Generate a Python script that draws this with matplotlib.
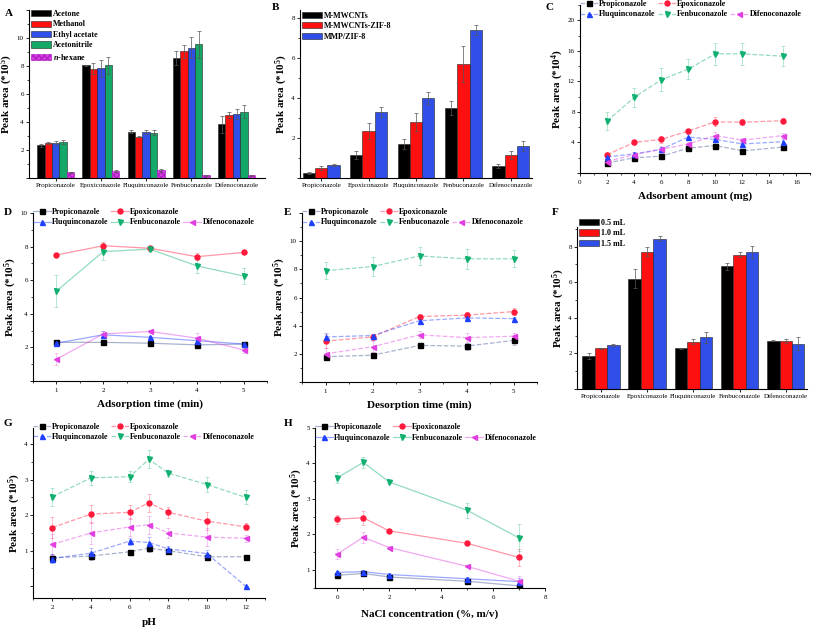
import numpy as np
import matplotlib.pyplot as plt
from matplotlib.lines import Line2D
from matplotlib.colors import to_rgba
from matplotlib.ticker import MultipleLocator, AutoMinorLocator, FuncFormatter

plt.rcParams['font.family'] = ['Liberation Serif', 'DejaVu Serif']
plt.rcParams['mathtext.fontset'] = 'custom'
plt.rcParams['mathtext.rm'] = 'Liberation Serif:bold'
plt.rcParams['mathtext.it'] = 'Liberation Serif:bold:italic'
plt.rcParams['mathtext.bf'] = 'Liberation Serif:bold'

pesticides = ['Propiconazole', 'Epoxiconazole', 'Fluquinconazole', 'Fenbuconazole', 'Difenoconazole']

# A - extraction solvent
solvents = ['Acetone', 'Methanol', 'Ethyl acetate', 'Acetonitrile', '$n$-hexane']
acetone = [2.35, 8.05, 3.30, 8.55, 3.85]
methanol = [2.50, 7.80, 2.95, 9.05, 4.50]
ethyl_acetate = [2.50, 7.85, 3.30, 9.30, 4.55]
acetonitrile = [2.60, 8.05, 3.25, 9.55, 4.75]
n_hexane = [0.40, 0.50, 0.55, 0.20, 0.20]
acetone_err = [0.10, 0.05, 0.10, 0.50, 0.60]
methanol_err = [0.10, 0.40, 0.05, 0.45, 0.20]
ethyl_acetate_err = [0.15, 0.60, 0.15, 0.75, 0.35]
acetonitrile_err = [0.15, 0.60, 0.15, 0.95, 0.45]
n_hexane_err = [0.05, 0.05, 0.10, 0.05, 0.03]

# B - adsorbent type
adsorbents = ['M-MWCNTs', 'M-MWCNTs-ZIF-8', 'MMP/ZIF-8']
mwcnt = [0.25, 1.15, 1.70, 3.50, 0.60]
mwcnt_zif = [0.50, 2.35, 2.80, 5.70, 1.15]
mmp_zif = [0.65, 3.30, 4.00, 7.40, 1.60]
mwcnt_err = [0.03, 0.20, 0.25, 0.35, 0.08]
mwcnt_zif_err = [0.08, 0.40, 0.45, 0.90, 0.20]
mmp_zif_err = [0.05, 0.25, 0.30, 0.25, 0.25]

# C - adsorbent amount (mg), peak area *10^4
amount = [2, 4, 6, 8, 10, 12, 15]
c_prop = [1.3, 2.0, 2.2, 3.25, 3.6, 2.9, 3.4]
c_epox = [2.4, 4.0, 4.4, 5.5, 6.7, 6.65, 6.85]
c_fluq = [2.1, 2.5, 3.1, 4.7, 4.4, 3.8, 4.1]
c_fenb = [6.8, 9.9, 12.2, 13.6, 15.6, 15.6, 15.3]
c_difen = [1.5, 2.4, 3.1, 3.8, 4.9, 4.3, 4.9]
c_prop_err = [0.3, 0.3, 0.3, 0.3, 0.5, 0.3, 0.3]
c_epox_err = [0.3, 0.3, 0.5, 0.3, 0.6, 0.4, 0.3]
c_fluq_err = [0.3, 0.3, 0.3, 0.4, 0.4, 0.3, 0.3]
c_fenb_err = [1.2, 1.2, 1.5, 1.3, 1.4, 1.4, 1.3]
c_difen_err = [0.3, 0.3, 0.5, 0.3, 0.5, 0.3, 0.3]

# D - adsorption time (min)
ads_time = [1, 2, 3, 4, 5]
d_prop = [2.3, 2.3, 2.25, 2.15, 2.2]
d_epox = [7.5, 8.05, 7.9, 7.4, 7.65]
d_fluq = [2.25, 2.75, 2.6, 2.4, 2.2]
d_fenb = [5.35, 7.7, 7.85, 6.85, 6.25]
d_difen = [1.3, 2.8, 2.95, 2.55, 1.85]
d_prop_err = [0.05, 0.05, 0.05, 0.05, 0.05]
d_epox_err = [0.1, 0.2, 0.1, 0.2, 0.1]
d_fluq_err = [0.1, 0.2, 0.1, 0.1, 0.1]
d_fenb_err = [0.95, 0.5, 0.1, 0.4, 0.5]
d_difen_err = [0.35, 0.2, 0.1, 0.3, 0.2]

# E - desorption time (min)
des_time = [1, 2, 3, 4, 5]
e_prop = [1.8, 1.9, 2.6, 2.55, 2.95]
e_epox = [2.9, 3.2, 4.65, 4.75, 5.0]
e_fluq = [3.2, 3.3, 4.35, 4.55, 4.5]
e_fenb = [7.9, 8.2, 8.95, 8.75, 8.75]
e_difen = [2.0, 2.5, 3.35, 3.15, 3.25]
e_prop_err = [0.1, 0.1, 0.1, 0.25, 0.3]
e_epox_err = [0.5, 0.2, 0.15, 0.2, 0.25]
e_fluq_err = [0.3, 0.1, 0.1, 0.1, 0.15]
e_fenb_err = [0.6, 0.7, 0.65, 0.7, 0.6]
e_difen_err = [0.4, 0.4, 0.25, 0.3, 0.25]

# F - desorption volume
volumes = ['0.5 mL', '1.0 mL', '1.5 mL']
vol_05 = [1.85, 6.2, 2.3, 6.9, 2.7]
vol_10 = [2.3, 7.7, 2.65, 7.55, 2.7]
vol_15 = [2.45, 8.45, 2.9, 7.7, 2.55]
vol_05_err = [0.15, 0.55, 0.03, 0.2, 0.03]
vol_10_err = [0.03, 0.25, 0.15, 0.15, 0.1]
vol_15_err = [0.05, 0.15, 0.3, 0.35, 0.35]

# G - pH
ph = [2, 4, 6, 7, 8, 10, 12]
g_prop = [0.80, 0.85, 0.97, 1.07, 1.00, 0.83, 0.83]
g_epox = [1.65, 2.03, 2.08, 2.35, 2.08, 1.83, 1.67]
g_fluq = [0.78, 0.93, 1.27, 1.23, 1.05, 0.92, 0.00]
g_fenb = [2.52, 3.05, 3.08, 3.57, 3.18, 2.86, 2.50]
g_difen = [1.18, 1.50, 1.67, 1.73, 1.50, 1.38, 1.35]
g_prop_err = [0.10, 0.10, 0.05, 0.12, 0.05, 0.10, 0.03]
g_epox_err = [0.30, 0.25, 0.20, 0.25, 0.15, 0.25, 0.10]
g_fluq_err = [0.12, 0.15, 0.10, 0.15, 0.08, 0.10, 0.02]
g_fenb_err = [0.25, 0.20, 0.15, 0.25, 0.10, 0.20, 0.20]
g_difen_err = [0.30, 0.30, 0.25, 0.25, 0.15, 0.25, 0.10]

# H - NaCl concentration (%, m/v)
nacl = [0, 1, 2, 5, 7]
h_prop = [0.85, 0.90, 0.80, 0.68, 0.55]
h_epox = [2.43, 2.47, 2.10, 1.75, 1.35]
h_fluq = [0.93, 0.95, 0.87, 0.75, 0.67]
h_fenb = [3.60, 4.03, 3.48, 2.68, 1.90]
h_difen = [1.45, 1.92, 1.63, 1.10, 0.68]
h_prop_err = [0.05, 0.05, 0.05, 0.05, 0.05]
h_epox_err = [0.13, 0.20, 0.03, 0.03, 0.25]
h_fluq_err = [0.05, 0.05, 0.05, 0.05, 0.10]
h_fenb_err = [0.15, 0.15, 0.03, 0.22, 0.38]
h_difen_err = [0.13, 0.15, 0.03, 0.03, 0.15]

bar_colors = ['#000000', '#ff1010', '#2f4fe8', '#14a868', '#e040e0']
line_colors = ['#000000', '#ff1a3c', '#2040ff', '#10b070', '#e040e0']
markers = ['s', 'o', '^', 'v', '<']

LEG = dict(size=5.8, weight='bold')
LAB = dict(fontsize=8, fontweight='bold')


def style_axis(ax, xlim, ylim, ystep, ylab_max):
    ax.spines['top'].set_visible(False)
    ax.spines['right'].set_visible(False)
    for s in ('left', 'bottom'):
        ax.spines[s].set_linewidth(0.8)
    ax.set_xlim(*xlim)
    ax.set_ylim(*ylim)
    ax.yaxis.set_major_locator(MultipleLocator(ystep))
    ax.yaxis.set_minor_locator(AutoMinorLocator(2))
    ax.yaxis.set_major_formatter(FuncFormatter(
        lambda v, p: '%g' % v if 1e-9 < v <= ylab_max + 1e-9 else ''))
    ax.tick_params(which='major', direction='out', length=2.5, width=0.6, labelsize=5.0, pad=1.2)
    ax.tick_params(which='minor', direction='out', length=1.4, width=0.5)


def bar_panel(ax, series, errs, names, width, hatches=None):
    x = np.arange(len(pesticides))
    n = len(series)
    for i, (vals, err) in enumerate(zip(series, errs)):
        off = (i - (n - 1) / 2) * width
        hatch = hatches[i] if hatches else None
        ax.bar(x + off, vals, width, color=bar_colors[i], edgecolor='#222222' if not hatch else '#b020c8',
               linewidth=0.4, hatch=hatch, label=names[i],
               yerr=err, error_kw=dict(ecolor='#555555', elinewidth=0.5, capsize=1.3, capthick=0.5))
    ax.set_xticks(x)
    ax.set_xticklabels(pesticides)
    ax.tick_params(axis='x', which='major', labelsize=4.8, length=2)
    ax.xaxis.set_minor_locator(plt.NullLocator())
    ax.set_ylabel('Peak area (*10$^{5}$)', labelpad=1, **LAB)


def bar_legend(ax, dy):
    ax.legend(loc='upper left', bbox_to_anchor=(0.01, dy), frameon=False, prop=LEG, handlelength=2.4,
              handleheight=0.8, handletextpad=0.3, labelspacing=0.3, borderaxespad=0, borderpad=0)


def line_panel(ax, x, series, errs, ls):
    handles = []
    for i, (vals, err) in enumerate(zip(series, errs)):
        c = line_colors[i]
        light = to_rgba(c, 0.45) if i != 0 else to_rgba('#7080b0', 0.6)
        ax.errorbar(x, vals, yerr=err, color=light, ls=ls, lw=0.9, marker=markers[i], ms=3.6,
                    mfc=c, mec=c, ecolor=to_rgba(c, 0.35) if i != 0 else to_rgba('#7080b0', 0.5),
                    elinewidth=0.6, capsize=1.5, capthick=0.6)
        handles.append(Line2D([], [], color=light, ls=ls, lw=0.9, marker=markers[i], ms=3.6, mfc=c, mec=c,
                              label=pesticides[i]))
    blank = Line2D([], [], ls='none', label=' ')
    order = [handles[0], handles[2], handles[1], handles[3], blank, handles[4]]
    ax.legend(handles=order, ncol=3, loc='upper left', bbox_to_anchor=(0.0, 1.03), frameon=False,
              prop=LEG, handlelength=2.2, handletextpad=0.2, columnspacing=0.25, labelspacing=0.3,
              borderaxespad=0, borderpad=0)


fig = plt.figure(figsize=(8.16, 6.27), dpi=100)
W, H = 816, 627


def add_ax(l, r, t, b):
    return fig.add_axes([l / W, 1 - b / H, (r - l) / W, (b - t) / H])


def panel_label(x, y, s):
    fig.text(x / W, 1 - y / H, s, fontsize=8, fontweight='bold', va='center', ha='left')


# A
axA = add_ax(29, 265, 10, 178)
bar_panel(axA, [acetone, methanol, ethyl_acetate, acetonitrile, n_hexane],
          [acetone_err, methanol_err, ethyl_acetate_err, acetonitrile_err, n_hexane_err],
          solvents, 0.164, hatches=[None, None, None, None, 'xxxxxx'])
style_axis(axA, (-0.59, 4.63), (0, 12), 2, 10)
bar_legend(axA, 1.0)
panel_label(5, 13, 'A')

# B
axB = add_ax(300, 532, 10, 178)
bar_panel(axB, [mwcnt, mwcnt_zif, mmp_zif], [mwcnt_err, mwcnt_zif_err, mmp_zif_err], adsorbents, 0.26)
style_axis(axB, (-0.45, 4.45), (0, 8.4), 2, 8)
bar_legend(axB, 0.99)
panel_label(272, 8, 'B')

# C
axC = add_ax(580, 810, 5, 173)
line_panel(axC, amount, [c_prop, c_epox, c_fluq, c_fenb, c_difen],
           [c_prop_err, c_epox_err, c_fluq_err, c_fenb_err, c_difen_err], '--')
style_axis(axC, (0, 17), (0, 22), 4, 20)
axC.xaxis.set_major_locator(MultipleLocator(2))
axC.xaxis.set_minor_locator(AutoMinorLocator(2))
axC.set_ylabel('Peak area (*10$^{4}$)', labelpad=1, **LAB)
axC.set_xlabel('Adsorbent amount (mg)', labelpad=5, **LAB)
panel_label(546, 8, 'C')

# D
axD = add_ax(33, 267, 213, 381)
line_panel(axD, ads_time, [d_prop, d_epox, d_fluq, d_fenb, d_difen],
           [d_prop_err, d_epox_err, d_fluq_err, d_fenb_err, d_difen_err], '-')
style_axis(axD, (0.5, 5.5), (0, 10), 2, 10)
axD.xaxis.set_major_locator(MultipleLocator(1))
axD.xaxis.set_minor_locator(AutoMinorLocator(2))
axD.set_ylabel('Peak area (*10$^{5}$)', labelpad=1, **LAB)
axD.set_xlabel('Adsorption time (min)', labelpad=5, **LAB)
panel_label(4, 212, 'D')

# E
axE = add_ax(302, 537, 213, 382)
line_panel(axE, des_time, [e_prop, e_epox, e_fluq, e_fenb, e_difen],
           [e_prop_err, e_epox_err, e_fluq_err, e_fenb_err, e_difen_err], '--')
style_axis(axE, (0.5, 5.5), (0, 12), 2, 10)
axE.xaxis.set_major_locator(MultipleLocator(1))
axE.xaxis.set_minor_locator(AutoMinorLocator(2))
axE.set_ylabel('Peak area (*10$^{5}$)', labelpad=1, **LAB)
axE.set_xlabel('Desorption time (min)', labelpad=5, **LAB)
panel_label(284, 212, 'E')

# F
axF = add_ax(577, 807, 227, 389)
bar_panel(axF, [vol_05, vol_10, vol_15], [vol_05_err, vol_10_err, vol_15_err], volumes, 0.27)
style_axis(axF, (-0.52, 4.46), (0, 9.1), 2, 8)
bar_legend(axF, 1.05)
panel_label(552, 212, 'F')

# G
axG = add_ax(33, 265, 428, 598)
line_panel(axG, ph, [g_prop, g_epox, g_fluq, g_fenb, g_difen],
           [g_prop_err, g_epox_err, g_fluq_err, g_fenb_err, g_difen_err], '--')
style_axis(axG, (1, 13), (-0.33, 4.45), 1, 4)
axG.xaxis.set_major_locator(MultipleLocator(2))
axG.xaxis.set_minor_locator(AutoMinorLocator(2))
axG.set_ylabel('Peak area (*10$^{5}$)', labelpad=1, **LAB)
axG.set_xlabel('pH', labelpad=6, **LAB)
panel_label(4, 423, 'G')

# H
axH = add_ax(315, 545, 428, 588)
line_panel(axH, nacl, [h_prop, h_epox, h_fluq, h_fenb, h_difen],
           [h_prop_err, h_epox_err, h_fluq_err, h_fenb_err, h_difen_err], '-')
style_axis(axH, (-0.86, 8), (0.49, 5.0), 1, 5)
axH.xaxis.set_major_locator(MultipleLocator(2))
axH.xaxis.set_minor_locator(AutoMinorLocator(2))
axH.set_ylabel('Peak area (*10$^{5}$)', labelpad=1, **LAB)
axH.set_xlabel('NaCl concentration (%, m/v)', labelpad=7, **LAB)
panel_label(284, 423, 'H')

for ax in (axC, axD, axE, axG, axH):
    ax.tick_params(axis='x', which='major', labelsize=5.0, pad=2.5)
    ax.xaxis.set_major_formatter(FuncFormatter(lambda v, p: '%g' % v))

fig.savefig('out.png', dpi=100)
